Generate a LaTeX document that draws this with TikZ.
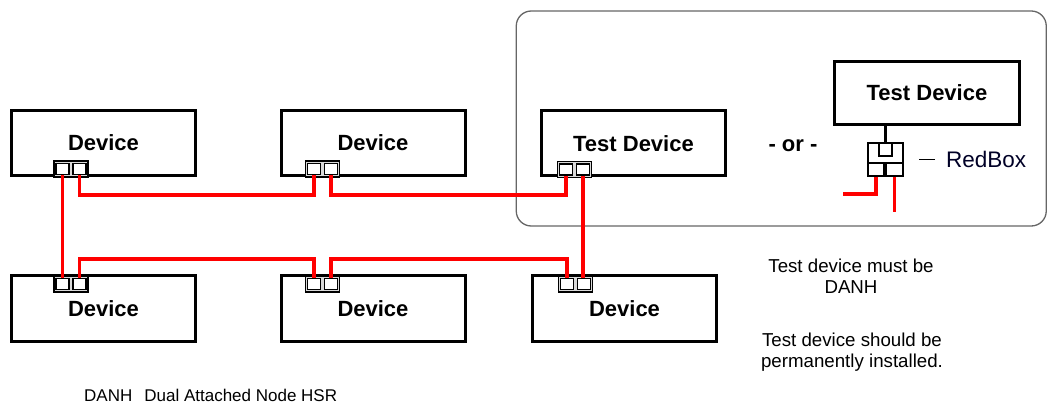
\documentclass[tikz,border=0pt]{standalone}
\usepackage{fontspec}
\setmainfont{Liberation Sans}
\usetikzlibrary{calc}
\newcommand{\makeport}[3]{%
  \node[portframe] (#1) at (#2,#3) {};
  \node[portsub] (#1a) at ($(#1.center)+(-8.5,0)$) {};
  \node[portsub] (#1b) at ($(#1.center)+(8.5,0)$) {};
}
\begin{document}
\begin{tikzpicture}[x=1pt,y=-1pt,
  dev/.style={draw=black,line width=3pt,fill=white,minimum width=184pt,minimum height=65pt,inner sep=0pt,font=\fontsize{22}{26}\selectfont\bfseries},
  portframe/.style={draw=black,line width=1.1pt,fill=gray!30,minimum width=34pt,minimum height=16pt,inner sep=0pt},
  portsub/.style={draw=black,line width=1.1pt,fill=white,minimum width=13pt,minimum height=11pt,inner sep=0pt},
  rbsq/.style={draw=black,line width=1.4pt,fill=white,inner sep=0pt},
  ring/.style={draw=red,line width=3.2pt},
  note/.style={font=\fontsize{18.7}{21.5}\selectfont,align=center,inner sep=0pt},
  group/.style={draw=black!60,line width=1.3pt,rounded corners=15pt,inner sep=0pt}
]
\useasboundingbox (0,0) rectangle (1049,403);

% group frame
\node[group,minimum width=530pt,minimum height=215pt] (grp) at (781.25,118.5) {};

% devices
\node[dev] (D1) at (103.5,143) {Device};
\node[dev] (D2) at (373,143) {Device};
\node[dev] (TD) at (633.5,143.5) {Test Device};
\node[dev] (D4) at (103.5,308.5) {Device};
\node[dev] (D5) at (373,308.5) {Device};
\node[dev] (D6) at (624.5,308.5) {Device};
\node[dev,minimum width=185pt,minimum height=63pt] (TD2) at (927,93) {Test Device};

% ports
\makeport{p1}{71}{169}
\makeport{p2}{322.5}{169}
\makeport{p3}{574.5}{169.5}
\makeport{p4}{71}{284}
\makeport{p5}{322.5}{284}
\makeport{p6}{575.5}{284}

% levels of the ring
\coordinate (ytop) at (0,195);
\coordinate (ybot) at (0,259);

% ring connections
\draw[ring] (p1b.south) -- (p1b.south |- ytop) -| (p2a.south);
\draw[ring] (p2b.south) -- (p2b.south |- ytop) -| (p3a.south);
\draw[ring] (p3b.south) -- (p3b.south |- p6b.north);
\draw[ring] (p6a.north) -- (p6a.north |- ybot) -| (p5b.north);
\draw[ring] (p5a.north) -- (p5a.north |- ybot) -| (p4b.north);
\draw[ring] (p4a.north) -- (p1a.south);

% or
\node[font=\fontsize{22}{26}\selectfont\bfseries,inner sep=0pt] (or) at (793,146) {- or -};

% RedBox
\node[rbsq,minimum width=35pt,minimum height=33pt] (rb) at (885.5,159.5) {};
\node[rbsq,minimum width=13pt,minimum height=13pt,anchor=north] (rbt) at (rb.north) {};
\node[rbsq,minimum width=16pt,minimum height=13pt,anchor=south west] (rba) at (rb.south west) {};
\node[rbsq,minimum width=17pt,minimum height=13pt,anchor=south east] (rbb) at (rb.south east) {};
\draw[black,line width=3pt] (rbt.north |- TD2.south) -- (rbt.north);
\coordinate (rbl) at (843,194);
\coordinate (rbd) at (894.5,212);
\draw[ring] (rba.south) |- (rbl);
\draw[ring] (rbb.south) -- (rbb.south |- rbd);
\node[font=\fontsize{22.5}{26}\selectfont,anchor=west,inner sep=0pt,text=black!85!blue] (rblab) at (946,159) {RedBox};
\draw[black,line width=0.9pt] ([xshift=-11pt]rblab.west) -- ([xshift=-27pt]rblab.west);

% notes
\node[note] (n1) at (851,276) {Test device must be\\DANH};
\node[note] (n2) at (852,352) {Test device should be\\permanently installed.};
\node[font=\fontsize{17}{20}\selectfont,anchor=west,inner sep=0pt] (leg) at (84,395) {DANH\hspace*{12pt}Dual Attached Node HSR};
\end{tikzpicture}
\end{document}
